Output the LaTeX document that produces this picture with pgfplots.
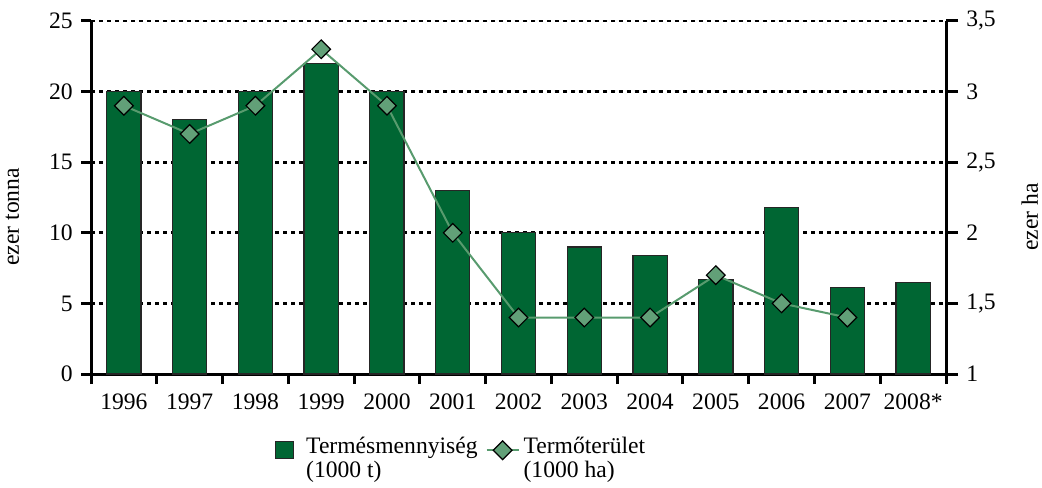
\documentclass[border=0pt]{standalone}
\usepackage{pgfplots}
\pgfplotsset{compat=1.18}
\usepackage{fontspec}
\setmainfont{Liberation Serif}
\definecolor{barc}{RGB}{0,102,51}
\definecolor{lnc}{RGB}{88,155,110}
\definecolor{mkc}{RGB}{98,160,120}
\newcommand{\fs}{\fontsize{11.8pt}{12pt}\selectfont}
\begin{document}
\fs
\begin{tikzpicture}
\path[use as bounding box] (0,0) rectangle (521pt,243.5pt);
\begin{axis}[
  at={(45.5pt,56.5pt)}, anchor=south west,
  scale only axis, width=427.5pt, height=176.5pt,
  xmin=-0.5, xmax=12.5, ymin=0, ymax=25,
  axis x line*=bottom, axis y line*=left,
  axis line style={-, line width=1.5pt, black},
  xtick={-0.5,0.5,...,12.5},
  xticklabels={1996,1997,1998,1999,2000,2001,2002,2003,2004,2005,2006,2007,2008*},
  x tick label as interval,
  ytick={0,5,10,15,20,25},
  ymajorgrids,
  grid style={black, line width=1.4pt, dash pattern=on 2pt off 2pt},
  tick align=outside, major tick length=5pt,
  tick style={black, line width=1.5pt},
  xticklabel style={yshift=-1pt},
  /pgf/number format/assume math mode=true,
  ticklabel style={font=\fs},
  ylabel={ezer tonna},
  ylabel style={at={(axis description cs:-0.092,0.445)}, anchor=center, font=\fs},
  legend style={at={(0.434,-0.155)}, anchor=north, draw=none, fill=none,
     legend columns=2, font=\fs,
     /tikz/every even column/.append style={column sep=2pt},
     /tikz/column 1/.style={column sep=4pt}},
  legend cell align=left,
]
\addplot[ybar, bar width=0.52, fill=barc, draw=black!85, line width=0.6pt,
  area legend,
  legend image code/.code={\draw[fill=barc, draw=black!85, line width=0.6pt] (-3pt,-5.5pt) rectangle (6pt,3pt);}]
 coordinates {(0,20) (1,18) (2,20) (3,22) (4,20) (5,13) (6,10) (7,9) (8,8.4) (9,6.7) (10,11.8) (11,6.1) (12,6.5)};
\addlegendentry{\begin{tabular}[t]{@{}l@{}}Termésmennyiség\\(1000 t)\end{tabular}}
\addlegendimage{legend image code/.code={%
  \draw[lnc, line width=1pt] (0pt,-1.5pt) -- (16pt,-1.5pt);
  \draw[fill=mkc, draw=black, line width=0.6pt] (8pt,-6.2pt) -- (12.7pt,-1.5pt) -- (8pt,3.2pt) -- (3.3pt,-1.5pt) -- cycle;}}
\addlegendentry{\begin{tabular}[t]{@{}l@{}}Termőterület\\(1000 ha)\end{tabular}}
\end{axis}
\begin{axis}[
  at={(45.5pt,56.5pt)}, anchor=south west,
  scale only axis, width=427.5pt, height=176.5pt,
  xmin=-0.5, xmax=12.5, ymin=1, ymax=3.5,
  axis y line*=right, axis x line=none,
  axis line style={-, line width=1.5pt, black},
  ytick={1,1.5,2,2.5,3,3.5},
  /pgf/number format/use comma,
  /pgf/number format/assume math mode=true,
  tick align=outside, major tick length=6pt,
  tick style={black, line width=1.5pt},
  ticklabel style={font=\fs},
  ylabel={ezer ha},
  ylabel style={at={(axis description cs:1.098,0.445)}, anchor=center, rotate=0, font=\fs},
]
\addplot[lnc, line width=1pt, mark=square*, mark size=3.3pt,
  mark options={rotate=45, fill=mkc, draw=black, line width=0.6pt}]
 coordinates {(0,2.9) (1,2.7) (2,2.9) (3,3.3) (4,2.9) (5,2.0) (6,1.4) (7,1.4) (8,1.4) (9,1.7) (10,1.5) (11,1.4)};
\end{axis}
\end{tikzpicture}
\end{document}
